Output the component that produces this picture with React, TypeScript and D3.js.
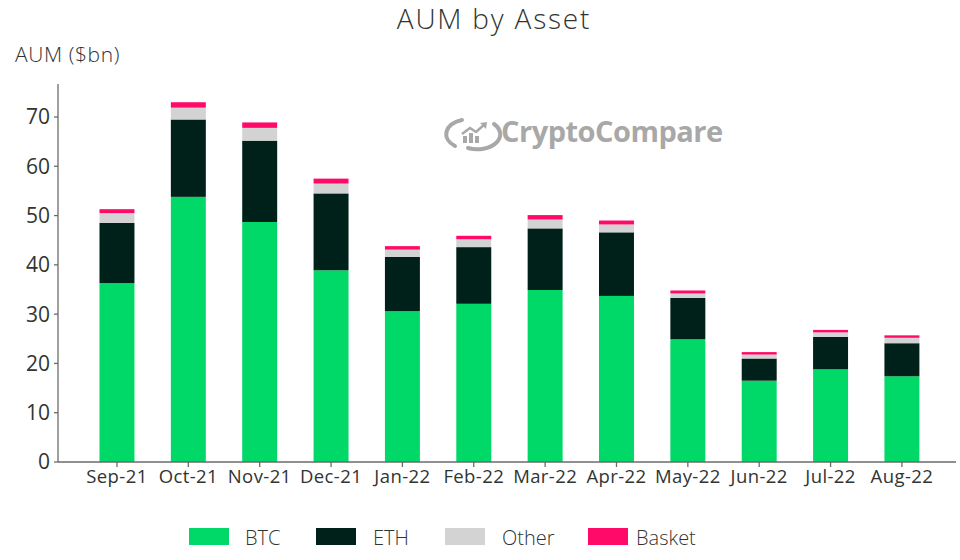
import React from "react";
import * as d3 from "d3";

const months = ["Sep-21","Oct-21","Nov-21","Dec-21","Jan-22","Feb-22","Mar-22","Apr-22","May-22","Jun-22","Jul-22","Aug-22"];
const btc = [36.3, 53.8, 48.7, 38.9, 30.6, 32.1, 34.9, 33.7, 24.9, 16.5, 18.8, 17.4];
const eth = [12.2, 15.7, 16.5, 15.6, 11.0, 11.5, 12.5, 12.9, 8.4, 4.5, 6.6, 6.7];
const other = [2.0, 2.4, 2.6, 2.0, 1.5, 1.6, 1.8, 1.6, 0.9, 0.8, 0.9, 1.1];
const basket = [0.8, 1.1, 1.1, 1.0, 0.7, 0.7, 0.9, 0.8, 0.6, 0.5, 0.5, 0.5];
const seriesNames = ["BTC", "ETH", "Other", "Basket"];
const yTicks = [0, 10, 20, 30, 40, 50, 60, 70];

const colors: Record<string, string> = {
  BTC: "#00d868",
  ETH: "#00201a",
  Other: "#d3d3d3",
  Basket: "#ff0a68",
};

const FONT = "'Open Sans', 'Segoe UI', sans-serif";
const TEXT = "#2f3533";
const AXIS = "#6b6b6b";

export default function App() {
  const x = d3.scaleBand<string>().domain(months).range([81.3, 937.6]).paddingInner(0.51).paddingOuter(0.255);
  const y = d3.scaleLinear().domain([0, 76.7]).range([462, 84]);

  const rows = months.map((m, i) => ({ month: m, BTC: btc[i], ETH: eth[i], Other: other[i], Basket: basket[i] }));
  const stack = d3.stack<any>().keys(seriesNames)(rows);

  const legendX = [189, 316, 445, 588];
  const legendTextX = [245, 373, 502, 636];

  return (
    <svg width={960} height={560} style={{ position: "absolute", left: 0, top: 0, background: "#fff" }} fontFamily={FONT}>
      <rect width={960} height={560} fill="#fff" />
      {/* Title */}
      <text x={494} y={29} textAnchor="middle" fontSize={28} fontWeight={300} letterSpacing={1.8} fill={TEXT}>AUM by Asset</text>
      {/* Y label */}
      <text x={15} y={62} fontSize={21} fontWeight={300} letterSpacing={0.6} fill={TEXT}>AUM ($bn)</text>

      {/* Watermark */}
      <g fill="#a8a8a8" stroke="#a8a8a8">
        <path d="M 462 120 A 23 15 0 0 0 455 146 M 468 148 A 23 15 0 0 0 494 124" fill="none" strokeWidth={4} strokeLinecap="round" />
        <rect x={463} y={136} width={4} height={7} stroke="none" />
        <rect x={469} y={133} width={4} height={10} stroke="none" />
        <rect x={475} y={136} width={4} height={7} stroke="none" />
        <path d="M 462 134 L 470 128 L 476 132 L 485 124" fill="none" strokeWidth={2.5} />
        <path d="M 480 123 L 487 122 L 486 129 Z" stroke="none" />
        <text x={501} y={142} fontSize={29} fontWeight={700} stroke="none" letterSpacing={-0.5}>CryptoCompare</text>
      </g>

      {/* Bars */}
      {stack.map((s) => (
        <g key={s.key} fill={colors[s.key]}>
          {s.map((d, i) => (
            <rect key={i} x={x(months[i])} width={x.bandwidth()} y={y(d[1])} height={y(d[0]) - y(d[1])} />
          ))}
        </g>
      ))}

      {/* Y axis */}
      <line x1={58} x2={58} y1={84} y2={462} stroke={AXIS} strokeWidth={1.3} />
      {yTicks.map((t) => (
        <g key={t}>
          <line x1={54} x2={58} y1={y(t)} y2={y(t)} stroke={AXIS} strokeWidth={1.3} />
          <text x={50} y={y(t)} dy="0.35em" textAnchor="end" fontSize={21} fill={TEXT}>{t}</text>
        </g>
      ))}

      {/* X axis */}
      <line x1={58} x2={956} y1={462} y2={462} stroke={AXIS} strokeWidth={1.3} />
      {months.map((m) => {
        const cx = (x(m) as number) + x.bandwidth() / 2;
        return (
          <g key={m}>
            <line x1={cx} x2={cx} y1={462} y2={467} stroke={AXIS} strokeWidth={1.3} />
            <text x={cx} y={483} textAnchor="middle" fontSize={18.5} letterSpacing={0.4} fill={TEXT}>{m}</text>
          </g>
        );
      })}

      {/* Legend */}
      {seriesNames.map((n, i) => (
        <g key={n}>
          <rect x={legendX[i]} y={528} width={40} height={17} fill={colors[n]} />
          <text x={legendTextX[i]} y={545} fontSize={20} fontWeight={300} fill={TEXT}>{n}</text>
        </g>
      ))}
    </svg>
  );
}
